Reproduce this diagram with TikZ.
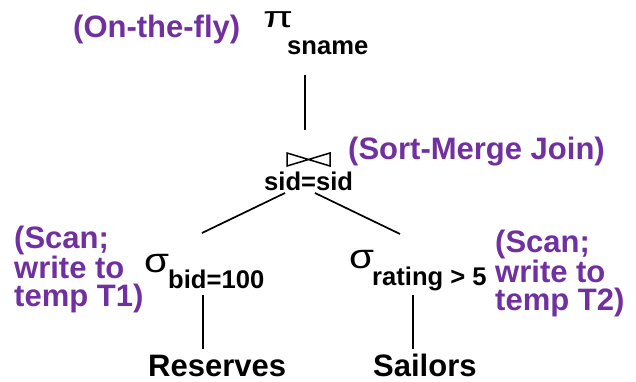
\documentclass[tikz,border=0pt]{standalone}
\usepackage{fontspec}
\setmainfont{Liberation Sans}
\definecolor{purp}{RGB}{112,48,160}
\tikzset{
  lbl/.style={font=\fontsize{25.6}{25.6}\selectfont\bfseries, inner sep=0pt, anchor=base west},
  rel/.style={font=\fontsize{31}{31}\selectfont\bfseries, inner sep=0pt, anchor=base west},
  note/.style={font=\fontsize{31}{28}\selectfont\bfseries, text=purp, inner sep=0pt, anchor=base west, align=left},
  greek/.style={font=\fontsize{30}{30}\selectfont, inner sep=0pt, anchor=base west},
  edge/.style={line width=1.7pt},
  bow/.style={line width=1.5pt, line join=miter}
}
\begin{document}
\begin{tikzpicture}[x=1pt,y=-1pt]
\useasboundingbox (0,0) rectangle (636,382);
% projection
\node[note] (n1) at (73,38) {(On-the-fly)};
\node[greek] (pi) at (263,28) {\scalebox{1.45}[1]{π}};
\node[lbl] (sname) at (287,55) {sname};
% join
\coordinate (jc) at (308.5,159.5);
\draw[bow] (287,153) -- (287,166) -- (jc) -- cycle;
\draw[bow] (330,153) -- (330,166) -- (jc) -- cycle;
\node[lbl] (sid) at (264,190) {sid=sid};
\node[note] (n2) at (348,160) {(Sort-Merge Join)};
% selections
\node[greek] (s1) at (144,272) {\scalebox{1.35}[1.15]{σ}};
\node[lbl] (bid) at (168,288) {bid=100};
\node[greek] (s2) at (349,268) {\scalebox{1.35}[1.15]{σ}};
\node[lbl] (rat) at (372,285) {rating > 5};
\node[note] (n3) at (14,306) {(Scan;\\write to\\temp T1)};
\node[note] (n4) at (495,310) {(Scan;\\write to\\temp T2)};
% relations
\node[rel] (res) at (148,376) {Reserves};
\node[rel] (sai) at (373,376) {Sailors};
% connector end points
\coordinate (a1) at (305,75);
\coordinate (a2) at (305,130);
\coordinate (b1) at (285,193);
\coordinate (b2) at (202,233);
\coordinate (c1) at (315,193);
\coordinate (c2) at (400,234);
\coordinate (d1) at (203,295);
\coordinate (d2) at (203,349);
\coordinate (e1) at (413,295);
\coordinate (e2) at (413,349);
\draw[edge] (a1) -- (a2);
\draw[edge] (b1) -- (b2);
\draw[edge] (c1) -- (c2);
\draw[edge] (d1) -- (d2);
\draw[edge] (e1) -- (e2);
\end{tikzpicture}
\end{document}
